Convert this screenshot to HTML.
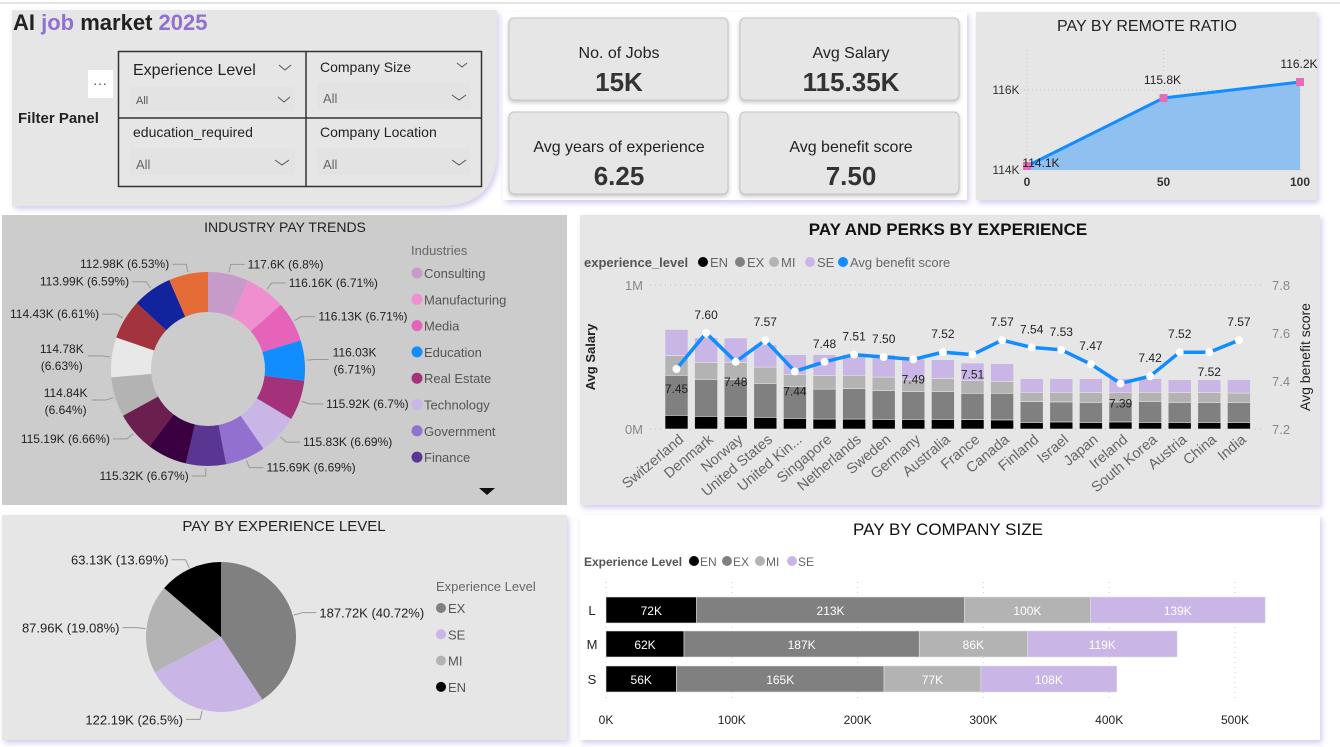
<!DOCTYPE html>
<html><head><meta charset="utf-8">
<style>
html,body{margin:0;padding:0;background:#fff;width:1340px;height:747px;overflow:hidden;}
svg{display:block;font-family:"Liberation Sans",sans-serif;}
</style></head>
<body>
<svg id="root" width="1340" height="747" viewBox="0 0 1340 747" xmlns="http://www.w3.org/2000/svg">
<defs>
<filter id="sh" x="-5%" y="-5%" width="110%" height="115%"><feDropShadow dx="2" dy="3" stdDeviation="3" flood-color="#b9a6e0" flood-opacity="0.6"/></filter>
<filter id="sh2" x="-5%" y="-5%" width="110%" height="115%"><feDropShadow dx="0" dy="2" stdDeviation="2" flood-color="#888" flood-opacity="0.5"/></filter>
</defs>
<rect x="0" y="0" width="1340" height="747" fill="#fff"/>
<line x1="0" y1="3" x2="1340" y2="3" stroke="#e4e4e4" stroke-width="2"/>

<g>
<path d="M12 10 H497 V150 Q497 206 440 206 H12 Z" fill="#e6e6e6" filter="url(#sh)"/>
<text x="13" y="30" font-size="22" font-weight="bold" fill="#222">AI <tspan fill="#9370cf">job</tspan> market <tspan fill="#9370cf">2025</tspan></text>
<rect x="88" y="70" width="25" height="28" fill="#fff"/>
<text x="100" y="88" font-size="14" fill="#555" text-anchor="middle">···</text>
<text x="18" y="123" font-size="15" font-weight="bold" fill="#222">Filter Panel</text>
<rect x="118.5" y="51.5" width="363" height="135" fill="none" stroke="#333" stroke-width="1.5"/>
<line x1="306" y1="51" x2="306" y2="186" stroke="#333" stroke-width="1.5"/>
<line x1="118" y1="118" x2="481" y2="118" stroke="#333" stroke-width="1.5"/>
<g>
<text x="133" y="75" font-size="16" fill="#222">Experience Level</text>
<path d="M279 65 l6 5 l6 -5" fill="none" stroke="#555"/>
<rect x="130" y="87" width="165" height="24" fill="#e3e3e3"/>
<text x="136" y="104" font-size="11" fill="#555">All</text>
<path d="M278 97 l6 5 l6 -5" fill="none" stroke="#555"/>
</g>
<g>
<text x="320" y="72" font-size="14" fill="#222">Company Size</text>
<path d="M457 63 l5 4 l5 -4" fill="none" stroke="#555"/>
<rect x="317" y="83" width="153" height="27" fill="#e3e3e3"/>
<text x="323" y="103" font-size="13" fill="#666">All</text>
<path d="M452 95 l7 5 l7 -5" fill="none" stroke="#555"/>
</g>
<g>
<text x="133" y="137" font-size="14" fill="#222">education_required</text>
<rect x="130" y="148" width="165" height="27" fill="#e3e3e3"/>
<text x="136" y="169" font-size="13" fill="#666">All</text>
<path d="M275 160 l7 5 l7 -5" fill="none" stroke="#555"/>
</g>
<g>
<text x="320" y="137" font-size="14" fill="#222">Company Location</text>
<rect x="317" y="148" width="153" height="27" fill="#e3e3e3"/>
<text x="323" y="169" font-size="13" fill="#666">All</text>
<path d="M452 160 l7 5 l7 -5" fill="none" stroke="#555"/>
</g>
</g>

<g>
<rect x="503" y="12" width="464" height="188" fill="#fff" filter="url(#sh)"/>
<g>
<rect x="509" y="18" width="219" height="82" rx="5" fill="#e6e6e6" stroke="#c4c4c4" filter="url(#sh2)"/>
<text x="619" y="58" font-size="16" text-anchor="middle" fill="#222">No. of Jobs</text>
<text x="619" y="91" font-size="26" font-weight="bold" text-anchor="middle" fill="#333">15K</text></g>
<g>
<rect x="740" y="18" width="219" height="82" rx="5" fill="#e6e6e6" stroke="#c4c4c4" filter="url(#sh2)"/>
<text x="851" y="58" font-size="16" text-anchor="middle" fill="#222">Avg Salary</text>
<text x="851" y="91" font-size="26" font-weight="bold" text-anchor="middle" fill="#333">115.35K</text></g>
<g>
<rect x="509" y="112" width="219" height="82" rx="5" fill="#e6e6e6" stroke="#c4c4c4" filter="url(#sh2)"/>
<text x="619" y="152" font-size="16" text-anchor="middle" fill="#222">Avg years of experience</text>
<text x="619" y="185" font-size="26" font-weight="bold" text-anchor="middle" fill="#333">6.25</text></g>
<g>
<rect x="740" y="112" width="219" height="82" rx="5" fill="#e6e6e6" stroke="#c4c4c4" filter="url(#sh2)"/>
<text x="851" y="152" font-size="16" text-anchor="middle" fill="#222">Avg benefit score</text>
<text x="851" y="185" font-size="26" font-weight="bold" text-anchor="middle" fill="#333">7.50</text></g>
</g>

<rect x="976" y="12" width="341" height="188" fill="#e6e6e6" filter="url(#sh)"/>
<rect x="2" y="215" width="565" height="290" fill="#cccccc"/>
<rect x="580" y="215" width="740" height="290" fill="#e6e6e6" filter="url(#sh)"/>
<rect x="2" y="515" width="565" height="225" fill="#e6e6e6" filter="url(#sh)"/>
<rect x="580" y="515" width="740" height="225" fill="#fff" filter="url(#sh)"/>

<text x="1147" y="31" font-size="16" text-anchor="middle" fill="#222">PAY BY REMOTE RATIO</text>
<text x="285" y="232" font-size="14" text-anchor="middle" fill="#222">INDUSTRY PAY TRENDS</text>
<text x="948" y="235" font-size="17" font-weight="bold" text-anchor="middle" fill="#111">PAY AND PERKS BY EXPERIENCE</text>
<text x="284" y="531" font-size="15" text-anchor="middle" fill="#222">PAY BY EXPERIENCE LEVEL</text>
<text x="948" y="535" font-size="17" text-anchor="middle" fill="#111">PAY BY COMPANY SIZE</text>

<g id="remote"></g>
<g id="donut"></g>
<g id="perks"></g>
<g id="pie"></g>
<g id="csize"></g>
</svg>
<script>
const NS="http://www.w3.org/2000/svg";
function mk(tag,a,p){const e=document.createElementNS(NS,tag);for(const k in a)e.setAttribute(k,a[k]);if(p)p.appendChild(e);return e;}
function txt(s,a,p){const e=mk('text',a,p);e.textContent=s;return e;}

// ---------- Remote ratio ----------
const remoteCats=[0,50,100];
const remoteVals=[114.1,115.8,116.2];
const remoteLabels=["114.1K","115.8K","116.2K"];
const remoteTicks=[114,116];
(function(){
const g=document.getElementById('remote');
const X=v=>1027+v/100*273, Y=v=>170-(v-114)*40;
remoteTicks.forEach(t=>{
 mk('line',{x1:1020,x2:1302,y1:Y(t),y2:Y(t),stroke:'#c8c8c8','stroke-dasharray':'1,3'},g);
 const l=txt(t+'K',{x:1006,y:Y(t)+4,'font-size':12,'text-anchor':'middle',fill:'#333'},g);
 
 
});
remoteCats.forEach(c=>{
 mk('line',{x1:X(c),x2:X(c),y1:50,y2:170,stroke:'#c8c8c8','stroke-dasharray':'1,3'},g);
 const l=txt(String(c),{x:X(c),y:186,'font-size':12,'font-weight':'bold','text-anchor':'middle',fill:'#333'},g);
 
 
});
let d='M'+X(remoteCats[0])+' '+Y(114);
remoteCats.forEach((c,i)=>d+=' L'+X(c)+' '+Y(remoteVals[i]));
d+=' L'+X(remoteCats[remoteCats.length-1])+' '+Y(114)+' Z';
const area=mk('path',{d:d,fill:'#8fc0ef'},g);


const line=mk('polyline',{points:remoteCats.map((c,i)=>X(c)+','+Y(remoteVals[i])).join(' '),fill:'none',stroke:'#118dff','stroke-width':3},g);


remoteCats.forEach((c,i)=>{
 const m=mk('rect',{x:X(c)-4,y:Y(remoteVals[i])-4,width:8,height:8,fill:'#e66cb8'},g);
 
 
 const l=txt(remoteLabels[i],{x:i===0?X(c)+14:X(c)-1,y:i===0?Y(remoteVals[i])+1:Y(remoteVals[i])-14,'font-size':12,'text-anchor':'middle',fill:'#222'},g);
 
 
});
})();

// ---------- Donut ----------
const indNames=["Consulting","Manufacturing","Media","Education","Real Estate","Technology","Government","Finance","Retail","Healthcare","Energy","Transportation","Telecom","Automotive","Gaming"];
const indVals=[117.6,116.16,116.13,116.03,115.92,115.83,115.69,115.32,115.25,115.19,114.84,114.78,114.43,113.99,112.98];
const indLabels=["117.6K (6.8%)","116.16K (6.71%)","116.13K (6.71%)","116.03K|(6.71%)","115.92K (6.7%)","115.83K (6.69%)","115.69K (6.69%)","115.32K (6.67%)","","115.19K (6.66%)","114.84K|(6.64%)","114.78K|(6.63%)","114.43K (6.61%)","113.99K (6.59%)","112.98K (6.53%)"];
const indColors=["#c79bc9","#ef8fd0","#e563b8","#118dff","#a4327a","#c9b6e6","#9170cf","#5a3592","#3b0040","#6b1f4f","#b3b3b3","#e8e8e8","#a3333d","#12239e","#e66c37"];
function arcPath(cx,cy,r0,r1,a0,a1){
 const p=(r,a)=>[cx+r*Math.sin(a),cy-r*Math.cos(a)];
 const la=(a1-a0)>Math.PI?1:0;
 const [x1,y1]=p(r1,a0),[x2,y2]=p(r1,a1);
 if(r0<=0){return `M${cx} ${cy} L${x1} ${y1} A${r1} ${r1} 0 ${la} 1 ${x2} ${y2} Z`;}
 const [x3,y3]=p(r0,a1),[x4,y4]=p(r0,a0);
 return `M${x1} ${y1} A${r1} ${r1} 0 ${la} 1 ${x2} ${y2} L${x3} ${y3} A${r0} ${r0} 0 ${la} 0 ${x4} ${y4} Z`;
}
(function(){
const g=document.getElementById('donut');
const cx=208,cy=369,R=97,r=57;
const tot=indVals.reduce((a,b)=>a+b,0);
let a=0;
indVals.forEach((v,i)=>{
 const a1=a+v/tot*2*Math.PI;
 const s=mk('path',{d:arcPath(cx,cy,r,R,a,a1),fill:indColors[i]},g);
 
 
 if(indLabels[i]){
  const m=(a+a1)/2, sx=Math.sin(m), cy2=-Math.cos(m);
  const ex=cx+(R+2)*sx, ey=cy+(R+2)*cy2;
  const lx=cx+(R+10)*sx, ly=cy+(R+10)*cy2;
  const right=sx>=0;
  const hx=lx+(right?14:-14);
  mk('polyline',{points:`${ex},${ey} ${lx},${ly} ${hx},${ly}`,fill:'none',stroke:'#999','stroke-width':1},g);
  const parts=indLabels[i].split('|');
  let t;
  if(parts.length>1){
   const tx=hx+(right?26:-26);
   t=mk('text',{x:tx,y:ly-3,'font-size':12,'text-anchor':'middle',fill:'#222'},g);
   const s1=mk('tspan',{x:tx,dy:0},t);s1.textContent=parts[0];
   const s2=mk('tspan',{x:tx,dy:17},t);s2.textContent=parts[1];
  } else {
   t=txt(parts[0],{x:hx+(right?3:-3),y:ly+4,'font-size':12,'text-anchor':right?'start':'end',fill:'#222'},g);
  }
  
  
 }
 a=a1;
});
const lt=txt('Industries',{x:411,y:255,'font-size':13,fill:'#666'},g);


for(let i=0;i<8;i++){
 const y=273+i*26.3;
 const le=mk('g',{},g);
 
 
 mk('circle',{cx:417,cy:y,r:5.5,fill:indColors[i]},le);
 txt(indNames[i],{x:424,y:y+5,'font-size':13,fill:'#555'},le);
}
const arr=mk('path',{d:'M479 488 L495 488 L487 495 Z',fill:'#111'},g);


})();

// ---------- Pay & perks ----------
const countries=["Switzerland","Denmark","Norway","United States","United Kin...","Singapore","Netherlands","Sweden","Germany","Australia","France","Canada","Finland","Israel","Japan","Ireland","South Korea","Austria","China","India"];
const enVals=[95,88,88,81,74,69,69,67,67,67,65,63,46,49,46,49,46,46,46,46];
const exVals=[278,257,255,236,222,208,211,201,194,194,183,185,144,139,139,139,146,139,139,139];
const miVals=[137,118,120,113,81,95,93,93,81,90,90,83,65,67,69,67,63,69,69,65];
const seVals=[181,171,169,155,139,144,144,155,144,130,120,123,95,95,95,95,95,88,88,93];
const benefitVals=[7.45,7.60,7.48,7.57,7.44,7.48,7.51,7.50,7.49,7.52,7.51,7.57,7.54,7.53,7.47,7.39,7.42,7.52,7.52,7.57];
const benefitBelow=[1,0,1,0,1,0,0,0,1,0,1,0,0,0,0,1,0,0,1,0];
const salaryTicks=[0,1000];
const salaryTickLabels=["0M","1M"];
const benefitTicks=[7.2,7.4,7.6,7.8];
(function(){
const g=document.getElementById('perks');
const Y=v=>429-v/1000*144;
const YB=v=>429-(v-7.2)/0.6*144;
const X=i=>676.5+i*29.6;
salaryTicks.forEach((t,k)=>{
 mk('line',{x1:650,x2:1262,y1:Y(t),y2:Y(t),stroke:'#bbb','stroke-dasharray':'1,4'},g);
 const l=txt(salaryTickLabels[k],{x:643,y:Y(t)+5,'font-size':13,'text-anchor':'end',fill:'#888'},g);
 
 
});
benefitTicks.forEach(t=>{
 const l=txt(t.toFixed(1),{x:1272,y:YB(t)+5,'font-size':13,fill:'#888'},g);
 
 
});
const series=[enVals,exVals,miVals,seVals], cols=['#000000','#808080','#b3b3b3','#c9b6e6'], nm=['en','ex','mi','se'];
countries.forEach((c,i)=>{
 let base=0;
 series.forEach((s,k)=>{
  const b=mk('rect',{x:X(i)-11.5,y:Y(base+s[i]),width:23,height:Y(base)-Y(base+s[i]),fill:cols[k],stroke:'#e6e6e6','stroke-width':0.6},g);
  
  
  base+=s[i];
 });
 const l=txt(c,{x:X(i)+8,y:441,'font-size':14.5,'text-anchor':'end',fill:'#666',transform:`rotate(-40 ${X(i)+8} 441)`},g);
 
 
});
const ln=mk('polyline',{points:benefitVals.map((v,i)=>X(i)+','+YB(v)).join(' '),fill:'none',stroke:'#118dff','stroke-width':3.5},g);


benefitVals.forEach((v,i)=>{
 const p=mk('circle',{cx:X(i),cy:YB(v),r:4,fill:'#fff'},g);
 
 
 const l=txt(v.toFixed(2),{x:X(i),y:benefitBelow[i]?YB(v)+24:YB(v)-14,'font-size':12,'text-anchor':'middle',fill:'#222'},g);
 
 
});
const yt=txt('Avg Salary',{x:0,y:0,'font-size':13,'font-weight':'bold','text-anchor':'middle',fill:'#222',transform:'translate(595 357) rotate(-90)'},g);


const yt2=txt('Avg benefit score',{x:0,y:0,'font-size':14,'text-anchor':'middle',fill:'#222',transform:'translate(1310 357) rotate(-90)'},g);


const lg=mk('g',{},g);


txt('experience_level',{x:584,y:267,'font-size':13,'font-weight':'bold',fill:'#555'},lg);
const legItems=[['EN','#000',703],['EX','#808080',740],['MI','#b3b3b3',774],['SE','#c9b6e6',810],['Avg benefit score','#118dff',843]];
legItems.forEach(it=>{
 const e=mk('g',{},lg);
 
 
 mk('circle',{cx:it[2],cy:262,r:5,fill:it[1]},e);
 txt(it[0],{x:it[2]+7,y:267,'font-size':13,fill:'#666'},e);
});
})();

// ---------- Experience pie ----------
const expNames=["EX","SE","MI","EN"];
const expVals=[187.72,122.19,87.96,63.13];
const expLabels=["187.72K (40.72%)","122.19K (26.5%)","87.96K (19.08%)","63.13K (13.69%)"];
const expColors=["#808080","#c9b6e6","#b3b3b3","#000000"];
(function(){
const g=document.getElementById('pie');
const cx=221,cy=637,R=75;
const tot=expVals.reduce((a,b)=>a+b,0);
let a=0;
expVals.forEach((v,i)=>{
 const a1=a+v/tot*2*Math.PI;
 const s=mk('path',{d:arcPath(cx,cy,0,R,a,a1),fill:expColors[i]},g);
 
 
 const m=(a+a1)/2, sx=Math.sin(m), sy=-Math.cos(m);
 const right=sx>=0;
 const ex=cx+(R+1)*sx, ey=cy+(R+1)*sy;
 const lx=cx+(R+10)*sx, ly=cy+(R+10)*sy;
 const hx=lx+(right?14:-14);
 mk('polyline',{points:`${ex},${ey} ${lx},${ly} ${hx},${ly}`,fill:'none',stroke:'#999'},g);
 const t=txt(expLabels[i],{x:hx+(right?3:-3),y:ly+5,'font-size':13,'text-anchor':right?'start':'end',fill:'#222'},g);
 
 
 a=a1;
});
const lt=txt('Experience Level',{x:436,y:591,'font-size':13,fill:'#666'},g);


expNames.forEach((n,i)=>{
 const y=608+i*26.3;
 const e=mk('g',{},g);
 
 
 mk('circle',{cx:441,cy:y,r:5,fill:expColors[i]},e);
 txt(n,{x:448,y:y+5,'font-size':13,fill:'#555'},e);
});
})();

// ---------- Company size ----------
const sizeCats=["L","M","S"];
const sizeEN=[72,62,56];
const sizeEX=[213,187,165];
const sizeMI=[100,86,77];
const sizeSE=[139,119,108];
const sizeTicks=[0,100,200,300,400,500];
(function(){
const g=document.getElementById('csize');
const X=v=>606+v*1.258;
const rowY=[597,631,666], bh=26;
sizeTicks.forEach(t=>{
 mk('line',{x1:X(t),x2:X(t),y1:582,y2:700,stroke:'#ccc','stroke-dasharray':'1,4'},g);
 const l=txt(t+'K',{x:X(t),y:724,'font-size':12,'text-anchor':'middle',fill:'#222'},g);
 
 
});
const series=[sizeEN,sizeEX,sizeMI,sizeSE], cols=['#000000','#808080','#b3b3b3','#c9b6e6'], nm=['en','ex','mi','se'];
sizeCats.forEach((c,i)=>{
 const l=txt(c,{x:592,y:rowY[i]+18,'font-size':13,'text-anchor':'middle',fill:'#222'},g);
 
 
 let base=0;
 series.forEach((s,k)=>{
  const b=mk('rect',{x:X(base),y:rowY[i],width:X(base+s[i])-X(base),height:bh,fill:cols[k],stroke:'#e0e0e0','stroke-width':0.6},g);
  
  
  const v=txt(s[i]+'K',{x:(X(base)+X(base+s[i]))/2,y:rowY[i]+18,'font-size':12,'text-anchor':'middle',fill:'#fff'},g);
  
  
  base+=s[i];
 });
});
const lg=mk('g',{},g);


txt('Experience Level',{x:584,y:566,'font-size':12,'font-weight':'bold',fill:'#555'},lg);
[['EN','#000',694],['EX','#808080',727],['MI','#b3b3b3',760],['SE','#c9b6e6',792]].forEach(it=>{
 const e=mk('g',{},lg);
 
 
 mk('circle',{cx:it[2],cy:561,r:5,fill:it[1]},e);
 txt(it[0],{x:it[2]+6,y:566,'font-size':12,fill:'#666'},e);
});
})();
</script>
</body></html>
